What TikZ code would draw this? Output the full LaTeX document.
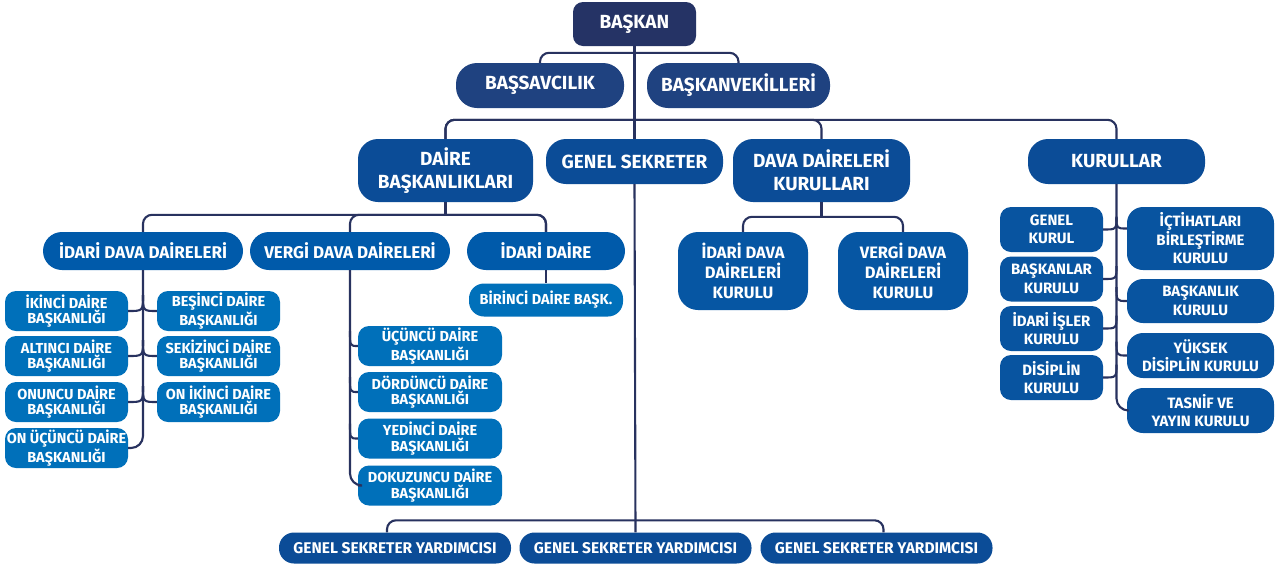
\documentclass[tikz,border=0pt]{standalone}
\usepackage{fontspec}
\setmainfont{Fira Sans}
\usetikzlibrary{calc}
\definecolor{cA}{RGB}{37,51,101}
\definecolor{cB}{RGB}{31,66,128}
\definecolor{cC}{RGB}{11,76,151}
\definecolor{cD}{RGB}{0,90,170}
\definecolor{cE}{RGB}{0,112,186}
\definecolor{cF}{RGB}{6,86,163}
\definecolor{cG}{RGB}{8,84,160}
\definecolor{lineC}{RGB}{40,50,95}
\newcommand\fsz[2]{\fontsize{#1}{#2}\selectfont}
\tikzset{
  base/.style={text=white, align=center, inner sep=0pt},
  conn/.style={draw=lineC, line width=2.1, rounded corners=9},
  topbox/.style={base, fill=cA, rounded corners=10, font=\bfseries\fsz{19}{23}},
  rowtwo/.style={base, fill=cB, rounded corners=21, minimum height=45, font=\bfseries\fsz{19}{23}},
  rowthree/.style={base, fill=cC, rounded corners=20, font=\bfseries\fsz{19}{23}},
  rowfour/.style={base, fill=cD, rounded corners=19, minimum height=38, font=\bfseries\fsz{17}{20}},
  leaf/.style={base, fill=cE, rounded corners=11, minimum height=40, font=\bfseries\fsz{14.5}{15.5}},
  kbox/.style={base, fill=cF, rounded corners=20, minimum width=130, minimum height=78, font=\bfseries\fsz{16.5}{20}},
  ksub/.style={base, fill=cG, rounded corners=11, minimum height=45, font=\bfseries\fsz{15}{18.5}},
  gsy/.style={base, fill=cC, rounded corners=15, minimum height=31, minimum width=232, font=\bfseries\fsz{15.5}{17}}
}
\begin{document}
\begin{tikzpicture}[x=1pt,y=-1pt]
\useasboundingbox[fill=white] (0,0) rectangle (1287,566);
% level 1-2
\node[topbox, minimum width=123, minimum height=44] (baskan) at (634.5,24) {BAŞKAN};
\node[rowtwo, minimum width=168] (bassav) at (540,85.5) {BAŞSAVCILIK};
\node[rowtwo, minimum width=183] (baskanv) at (738.5,85.5) {BAŞKANVEKİLLERİ};
% level 3
\node[rowthree, minimum width=175, minimum height=63] (daire) at (445.5,170.5) {DAİRE\\BAŞKANLIKLARI};
\node[rowthree, minimum width=177, minimum height=45] (gensek) at (634.5,161.5) {GENEL SEKRETER};
\node[rowthree, minimum width=177, minimum height=63] (davak) at (821.5,170.5) {DAVA DAİRELERİ\\KURULLARI};
\node[rowthree, minimum width=177, minimum height=45] (kurullar) at (1116.5,161.5) {KURULLAR};
% level 4
\node[rowfour, minimum width=200] (idd) at (143,251) {İDARİ DAVA DAİRELERİ};
\node[rowfour, minimum width=200] (vdd) at (350,251) {VERGİ DAVA DAİRELERİ};
\node[rowfour, minimum width=158] (idaire) at (546,251) {İDARİ DAİRE};
\node[leaf, minimum width=154, minimum height=33, rounded corners=15] (birinci) at (546,300) {BİRİNCİ DAİRE BAŞK.};
% idari dava leaves
\node[leaf, minimum width=123] (l1) at (66.5,311) {İKİNCİ DAİRE\\BAŞKANLIĞI};
\node[leaf, minimum width=123] (l2) at (66.5,356) {ALTINCI DAİRE\\BAŞKANLIĞI};
\node[leaf, minimum width=123] (l3) at (66.5,402) {ONUNCU DAİRE\\BAŞKANLIĞI};
\node[leaf, minimum width=123] (l4) at (66.5,448) {ON ÜÇÜNCÜ DAİRE\\BAŞKANLIĞI};
\node[leaf, minimum width=123] (r1) at (218.5,311) {BEŞİNCİ DAİRE\\BAŞKANLIĞI};
\node[leaf, minimum width=123] (r2) at (218.5,356) {SEKİZİNCİ DAİRE\\BAŞKANLIĞI};
\node[leaf, minimum width=123] (r3) at (218.5,402) {ON İKİNCİ DAİRE\\BAŞKANLIĞI};
% vergi leaves
\node[leaf, minimum width=144] (v1) at (430,346) {ÜÇÜNCÜ DAİRE\\BAŞKANLIĞI};
\node[leaf, minimum width=144] (v2) at (430,392) {DÖRDÜNCÜ DAİRE\\BAŞKANLIĞI};
\node[leaf, minimum width=144] (v3) at (430,438.5) {YEDİNCİ DAİRE\\BAŞKANLIĞI};
\node[leaf, minimum width=144] (v4) at (430,485.5) {DOKUZUNCU DAİRE\\BAŞKANLIĞI};
% dava daireleri kurullari
\node[kbox] (ik) at (743,271) {İDARİ DAVA\\DAİRELERİ\\KURULU};
\node[kbox] (vk) at (903,271) {VERGİ DAVA\\DAİRELERİ\\KURULU};
% kurullar
\node[ksub, minimum width=103] (k1) at (1051.5,229.5) {GENEL\\KURUL};
\node[ksub, minimum width=103] (k2) at (1051.5,279) {BAŞKANLAR\\KURULU};
\node[ksub, minimum width=103] (k3) at (1051.5,328.5) {İDARİ İŞLER\\KURULU};
\node[ksub, minimum width=103] (k4) at (1051.5,377.5) {DİSİPLİN\\KURULU};
\node[ksub, minimum width=147, minimum height=63, rounded corners=16] (k5) at (1200.5,238.5) {İÇTİHATLARI\\BİRLEŞTİRME\\KURULU};
\node[ksub, minimum width=147, minimum height=44, rounded corners=16] (k6) at (1200.5,301) {BAŞKANLIK\\KURULU};
\node[ksub, minimum width=147, rounded corners=16] (k7) at (1200.5,355.5) {YÜKSEK\\DİSİPLİN KURULU};
\node[ksub, minimum width=147, rounded corners=16] (k8) at (1200.5,410.5) {TASNİF VE\\YAYIN KURULU};
% bottom
\node[gsy] (g1) at (395,548) {GENEL SEKRETER YARDIMCISI};
\node[gsy] (g2) at (635.5,548) {GENEL SEKRETER YARDIMCISI};
\node[gsy] (g3) at (876.5,548) {GENEL SEKRETER YARDIMCISI};
% connectors
\draw[conn] (baskan.south) -- (gensek.north);
\draw[conn] (gensek.south) -- (g2.north);
\draw[conn] (bassav.north) -- ++(0,-10) -| (baskanv.north);
\draw[conn] (daire.north) -- ++(0,-19) -| (kurullar.north);
\draw[conn] (daire.north) -- ++(0,-19) -| (davak.north);
\draw[conn] (daire.south) -- ++(0,13);
\draw[conn] (idd.north) -- ++(0,-17) -| (idaire.north);
\draw[conn] (idaire.north) -- ++(0,-17) -| (vdd.north);
\draw[conn] (idaire.south) -- (birinci.north);
\draw[conn, rounded corners=12] (idd.south) |- (l4.east);
\foreach \n in {l1,l2,l3}
  \draw[conn] ($(\n.east -| idd.south)+(0,-16)$) .. controls (\n.east -| idd.south) .. (\n.east);
\foreach \n in {r1,r2,r3}
  \draw[conn] ($(\n.west -| idd.south)+(0,-16)$) .. controls (\n.west -| idd.south) .. (\n.west);
\draw[conn, rounded corners=12] (vdd.south) |- (v4.west);
\foreach \n in {v1,v2,v3}
  \draw[conn] ($(\n.west -| vdd.south)+(0,-15)$) .. controls (\n.west -| vdd.south) .. (\n.west);
\draw[conn] (davak.south) -- ++(0,15);
\draw[conn] (ik.north) -- ++(0,-15) -| (vk.north);
\draw[conn, rounded corners=12] (kurullar.south) |- (k8.west);
\foreach \n in {k1,k2,k3,k4}
  \draw[conn] ($(\n.east -| kurullar.south)+(0,-13)$) .. controls (\n.east -| kurullar.south) .. (\n.east);
\draw[conn] ($(k5.west -| kurullar.south)+(0,-21)$) .. controls ($(k5.west -| kurullar.south)+(0,-10)$) .. ($(k5.west)+(0,-10)$);
\foreach \n in {k6,k7}
  \draw[conn] ($(\n.west -| kurullar.south)+(0,-14)$) .. controls (\n.west -| kurullar.south) .. (\n.west);
\draw[conn] ($(g1.north)+(-8,0)$) -- ++(0,-12) -| ($(g3.north)+(7,0)$);
\end{tikzpicture}
\end{document}
